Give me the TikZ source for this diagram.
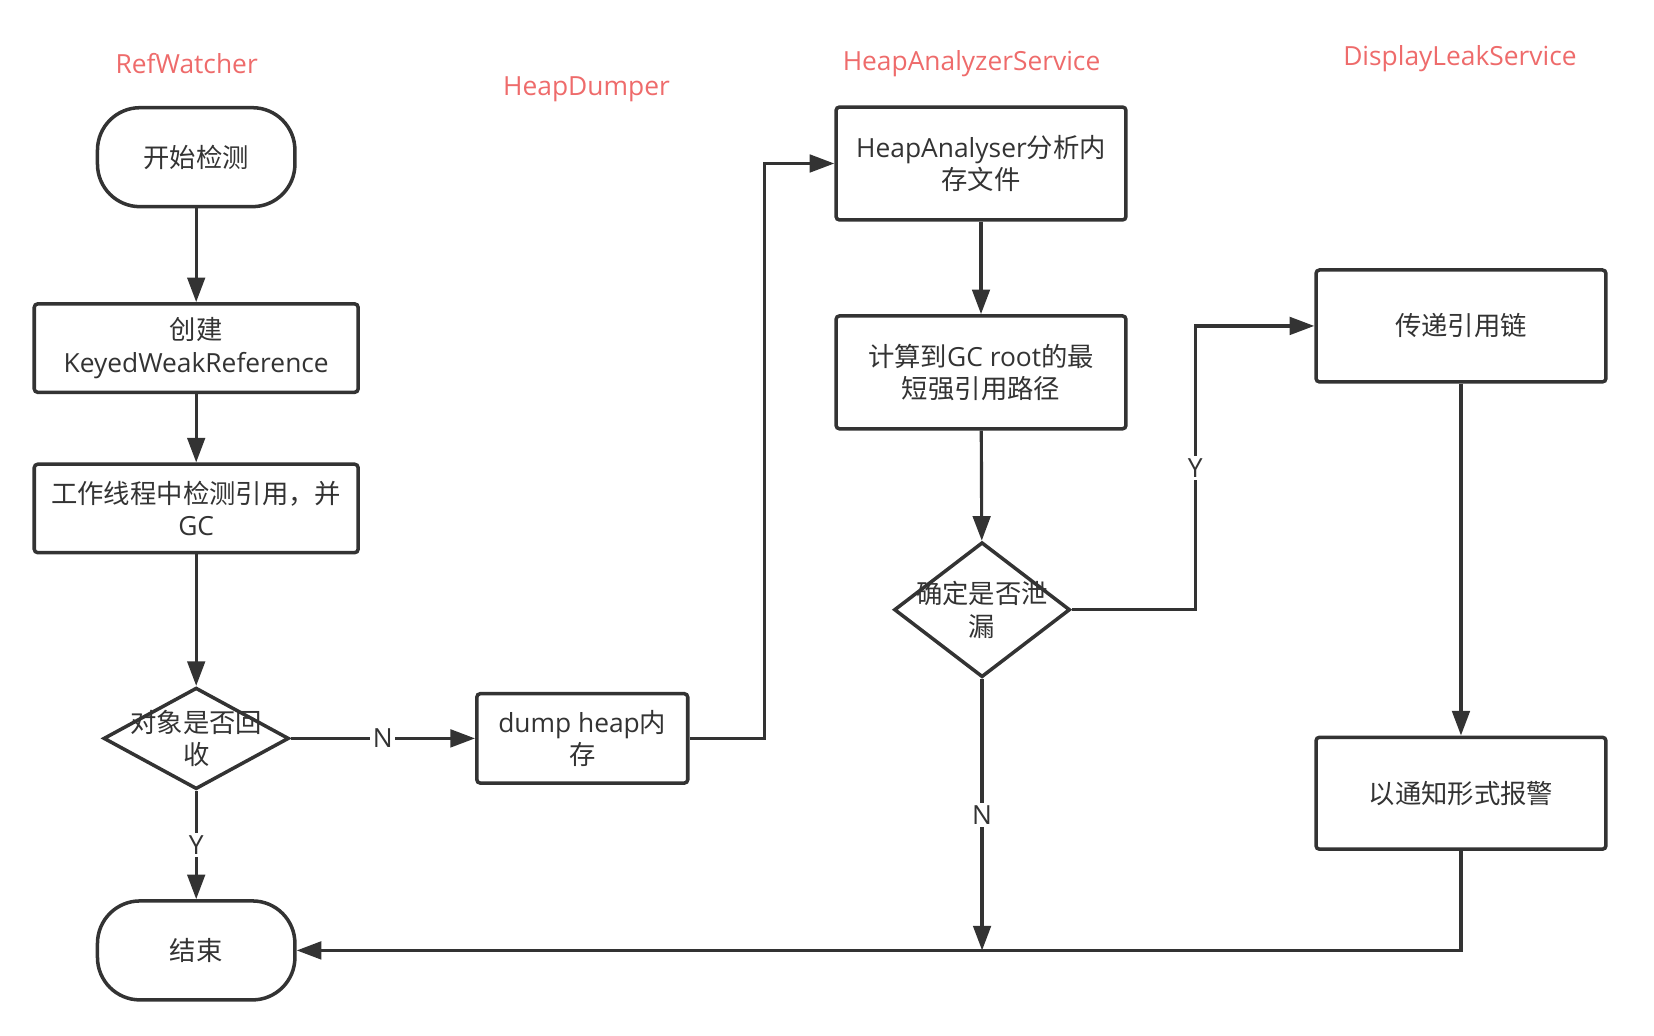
\documentclass[tikz,border=0pt]{standalone}
\usepackage{fontspec}
\setmainfont{Open Sans}
\newfontfamily\cjk{Noto Sans CJK SC}
\usetikzlibrary{shapes.geometric,arrows.meta}
\usepackage{xcolor}
\definecolor{ink}{HTML}{333333}
\definecolor{lanered}{HTML}{EE6B6B}

\begin{document}
\begin{tikzpicture}[x=0.0211cm,y=-0.0211cm,
  every node/.style={font=\fontsize{15pt}{18.5pt}\selectfont,text=ink},
  proc/.style={draw=ink,line width=2pt,rounded corners=2pt,align=center},
  term/.style={draw=ink,line width=2pt,rounded corners=0.85cm,minimum width=3.95cm,minimum height=1.98cm},
  choice/.style={draw=ink,line width=2pt,diamond,inner sep=0pt},
  lane/.style={text=lanered},
  flow/.style={draw=ink,line width=1.8pt,-{Triangle[length=14pt,width=10pt]}},
  tag/.style={fill=white,inner sep=1.5pt}]
\useasboundingbox (0,0) rectangle (1568,982);
\node [lane] (refwatcher) at (177,60) {RefWatcher};
\node [lane] (heapdumper) at (556,85) {HeapDumper};
\node [lane] (analyzer) at (921,60) {HeapAnalyzerService};
\node [lane] (display) at (1384,56) {DisplayLeakService};
\node [term] (start) at (186,149) {\cjk 开始检测};
\node [proc,minimum width=6.48cm,minimum height=1.77cm] (create) at (186,330) {{\cjk 创建}\\KeyedWeakReference};
\node [proc,minimum width=6.48cm,minimum height=1.77cm] (work) at (186,482) {{\cjk 工作线程中检测引用，并}\\GC};
\node [choice,minimum width=3.71cm,minimum height=2.03cm,label={[align=center]center:{{\cjk 对象是否回}\\{\cjk 收}}}] (collected) at (186,700) {};
\node [proc,minimum width=4.22cm,minimum height=1.79cm] (dump) at (552,700) {dump heap{\cjk 内}\\{\cjk 存}};
\node [term] (end) at (186,901) {\cjk 结束};
\node [proc,minimum width=5.80cm,minimum height=2.26cm] (analyse) at (930,155) {HeapAnalyser{\cjk 分析内}\\{\cjk 存文件}};
\node [proc,minimum width=5.80cm,minimum height=2.26cm] (shortest) at (930,353) {{\cjk 计算到}GC root{\cjk 的最}\\{\cjk 短强引用路径}};
\node [choice,minimum width=3.52cm,minimum height=2.70cm,label={[align=center]center:{{\cjk 确定是否泄}\\{\cjk 漏}}}] (leak) at (931,578) {};
\node [proc,minimum width=5.80cm,minimum height=2.24cm] (pass) at (1385,309) {\cjk 传递引用链};
\node [proc,minimum width=5.80cm,minimum height=2.24cm] (alarm) at (1385,752) {\cjk 以通知形式报警};
\draw [flow] (start) -- (create);
\draw [flow] (create) -- (work);
\draw [flow] (work) -- (collected);
\draw [flow] (collected) -- node [tag] {Y} (end);
\draw [flow] (collected) -- node [tag] {N} (dump);
\draw [flow] (dump.east) -- ++(71,0) |- (analyse.west);
\draw [flow] (analyse) -- (shortest);
\draw [flow] (shortest) -- (leak);
\draw [flow] (leak.east) -- ++(117,0) |- node [tag,pos=0.25] {Y} (pass.west);
\draw [flow] (pass) -- (alarm);
\draw [flow] (alarm.south) |- (end.east);
\draw [flow] (leak.south) -- node [tag] {N} (leak.south |- end.east);
\end{tikzpicture}
\end{document}
